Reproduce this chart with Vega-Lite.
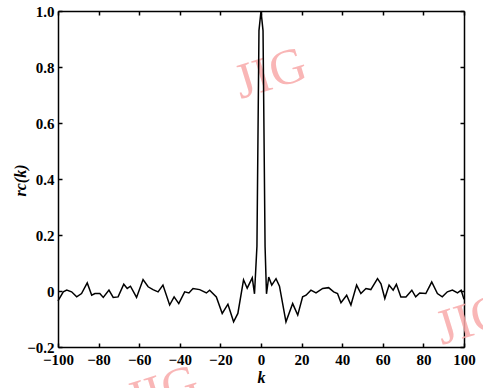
{
  "$schema": "https://vega.github.io/schema/vega-lite/v6.json",
  "width": 406,
  "height": 336,
  "autosize": {"type": "none"},
  "padding": {"left": 58, "top": 11, "right": 19, "bottom": 41},
  "background": "white",
  "config": {
    "view": {"stroke": null},
    "axis": {
      "domainColor": "black",
      "domainWidth": 1.5,
      "tickColor": "black",
      "tickWidth": 1.5,
      "tickSize": -4,
      "grid": false,
      "labelOverlap": false,
      "labelFlush": false,
      "labelFont": "Liberation Serif",
      "labelFontWeight": "bold",
      "labelFontSize": 15,
      "labelColor": "black",
      "titleFont": "Liberation Serif",
      "titleFontWeight": "bold",
      "titleFontStyle": "italic",
      "titleFontSize": 16,
      "titleColor": "black"
    }
  },
  "datasets": {
    "acf": [
      {"k": -100, "r": -0.035}, {"k": -97.4, "r": -0.003}, {"k": -95.7, "r": 0.003}, {"k": -93.3, "r": -0.003},
      {"k": -90.8, "r": -0.021}, {"k": -88.4, "r": -0.009}, {"k": -85.6, "r": 0.029}, {"k": -83.4, "r": -0.015},
      {"k": -81.8, "r": -0.009}, {"k": -79.4, "r": -0.009}, {"k": -77.7, "r": -0.023}, {"k": -74.9, "r": 0.003},
      {"k": -72.8, "r": -0.023}, {"k": -70.4, "r": -0.021}, {"k": -67.6, "r": 0.024}, {"k": -65.9, "r": 0.009},
      {"k": -64.3, "r": 0.017}, {"k": -61.3, "r": -0.023}, {"k": -58.1, "r": 0.041}, {"k": -55.6, "r": 0.015},
      {"k": -53.2, "r": 0.005}, {"k": -50.7, "r": -0.003}, {"k": -48.3, "r": 0.021}, {"k": -45, "r": -0.05},
      {"k": -42.8, "r": -0.021}, {"k": -40.5, "r": -0.045}, {"k": -37.6, "r": -0.003}, {"k": -35.5, "r": -0.007},
      {"k": -33.5, "r": 0.009}, {"k": -30.2, "r": 0.005}, {"k": -26.9, "r": -0.007}, {"k": -25.3, "r": 0.003},
      {"k": -22, "r": -0.021}, {"k": -19.1, "r": -0.08}, {"k": -16.3, "r": -0.047}, {"k": -13.5, "r": -0.11},
      {"k": -11.4, "r": -0.08}, {"k": -8.6, "r": 0.04}, {"k": -6.8, "r": 0.01}, {"k": -4.3, "r": 0.047},
      {"k": -3.2, "r": -0.01}, {"k": -2, "r": 0.16}, {"k": -1, "r": 0.93}, {"k": 0, "r": 1.0},
      {"k": 1, "r": 0.93}, {"k": 2, "r": 0.16}, {"k": 2.7, "r": -0.01}, {"k": 3.8, "r": 0.05},
      {"k": 5.3, "r": 0.021}, {"k": 7.4, "r": 0.044}, {"k": 9.1, "r": 0.017}, {"k": 12.3, "r": -0.11},
      {"k": 15.6, "r": -0.045}, {"k": 18.1, "r": -0.086}, {"k": 20.5, "r": -0.021}, {"k": 22.2, "r": -0.015},
      {"k": 24.6, "r": 0.003}, {"k": 27.1, "r": -0.007}, {"k": 30.4, "r": 0.009}, {"k": 33.3, "r": 0.012},
      {"k": 35.8, "r": -0.003}, {"k": 37.7, "r": -0.009}, {"k": 39.4, "r": -0.042}, {"k": 42.2, "r": -0.015},
      {"k": 44.3, "r": -0.05}, {"k": 47.1, "r": 0.021}, {"k": 49.2, "r": -0.009}, {"k": 51.7, "r": 0.009},
      {"k": 54.1, "r": 0.005}, {"k": 57.4, "r": 0.044}, {"k": 59.1, "r": 0.026}, {"k": 61, "r": -0.027},
      {"k": 63.1, "r": 0.021}, {"k": 65.1, "r": 0.003}, {"k": 66.7, "r": 0.024}, {"k": 68.9, "r": -0.021},
      {"k": 71.4, "r": -0.021}, {"k": 74.3, "r": 0.003}, {"k": 76.2, "r": -0.021}, {"k": 78.2, "r": -0.007},
      {"k": 81.2, "r": -0.009}, {"k": 84.1, "r": 0.032}, {"k": 86.9, "r": -0.009}, {"k": 89.3, "r": -0.021},
      {"k": 91.8, "r": -0.003}, {"k": 94.3, "r": 0.003}, {"k": 96.8, "r": -0.007}, {"k": 98.6, "r": 0.003},
      {"k": 100, "r": -0.03}
    ],
    "marks": [
      {"k": 4.7, "r": 0.775, "t": "JIG"},
      {"k": 103.9, "r": -0.104, "t": "JIG"},
      {"k": -48.4, "r": -0.36, "t": "JIG"}
    ]
  },
  "layer": [
    {
      "data": {"name": "marks"},
      "mark": {"type": "text", "font": "Liberation Serif", "fontSize": 50, "angle": -17, "align": "center", "baseline": "middle", "color": "#f9aaaa", "opacity": 0.85},
      "encoding": {
        "x": {"field": "k", "type": "quantitative", "scale": {"domain": [-100, 100], "nice": false, "zero": false},
              "axis": {"orient": "top", "labels": false, "title": null, "values": [-100, -80, -60, -40, -20, 0, 20, 40, 60, 80, 100]}},
        "y": {"field": "r", "type": "quantitative", "scale": {"domain": [-0.2, 1.0], "nice": false, "zero": false},
              "axis": {"orient": "right", "labels": false, "title": null, "values": [-0.2, 0, 0.2, 0.4, 0.6, 0.8, 1.0]}},
        "text": {"field": "t"}
      }
    },
    {
      "data": {"name": "acf"},
      "mark": {"type": "line", "color": "black", "strokeWidth": 1.5},
      "encoding": {
        "x": {"field": "k", "type": "quantitative", "scale": {"domain": [-100, 100], "nice": false, "zero": false},
              "axis": {"orient": "bottom", "title": "k", "values": [-100, -80, -60, -40, -20, 0, 20, 40, 60, 80, 100], "labelPadding": 9, "titleX": 203, "titleY": 30, "titleBaseline": "middle", "titleAlign": "center"}},
        "y": {"field": "r", "type": "quantitative", "scale": {"domain": [-0.2, 1.0], "nice": false, "zero": false},
              "axis": {"orient": "left", "title": "rc(k)", "values": [-0.2, 0, 0.2, 0.4, 0.6, 0.8, 1.0], "labelPadding": 8,
                       "labelExpr": "datum.value == 0 ? '0' : format(datum.value, '.1f')",
                       "titleX": -38, "titleY": 169, "titleAngle": -90, "titleBaseline": "middle", "titleAlign": "center"}}
      }
    }
  ],
  "resolve": {"axis": {"x": "independent", "y": "independent"}}
}
